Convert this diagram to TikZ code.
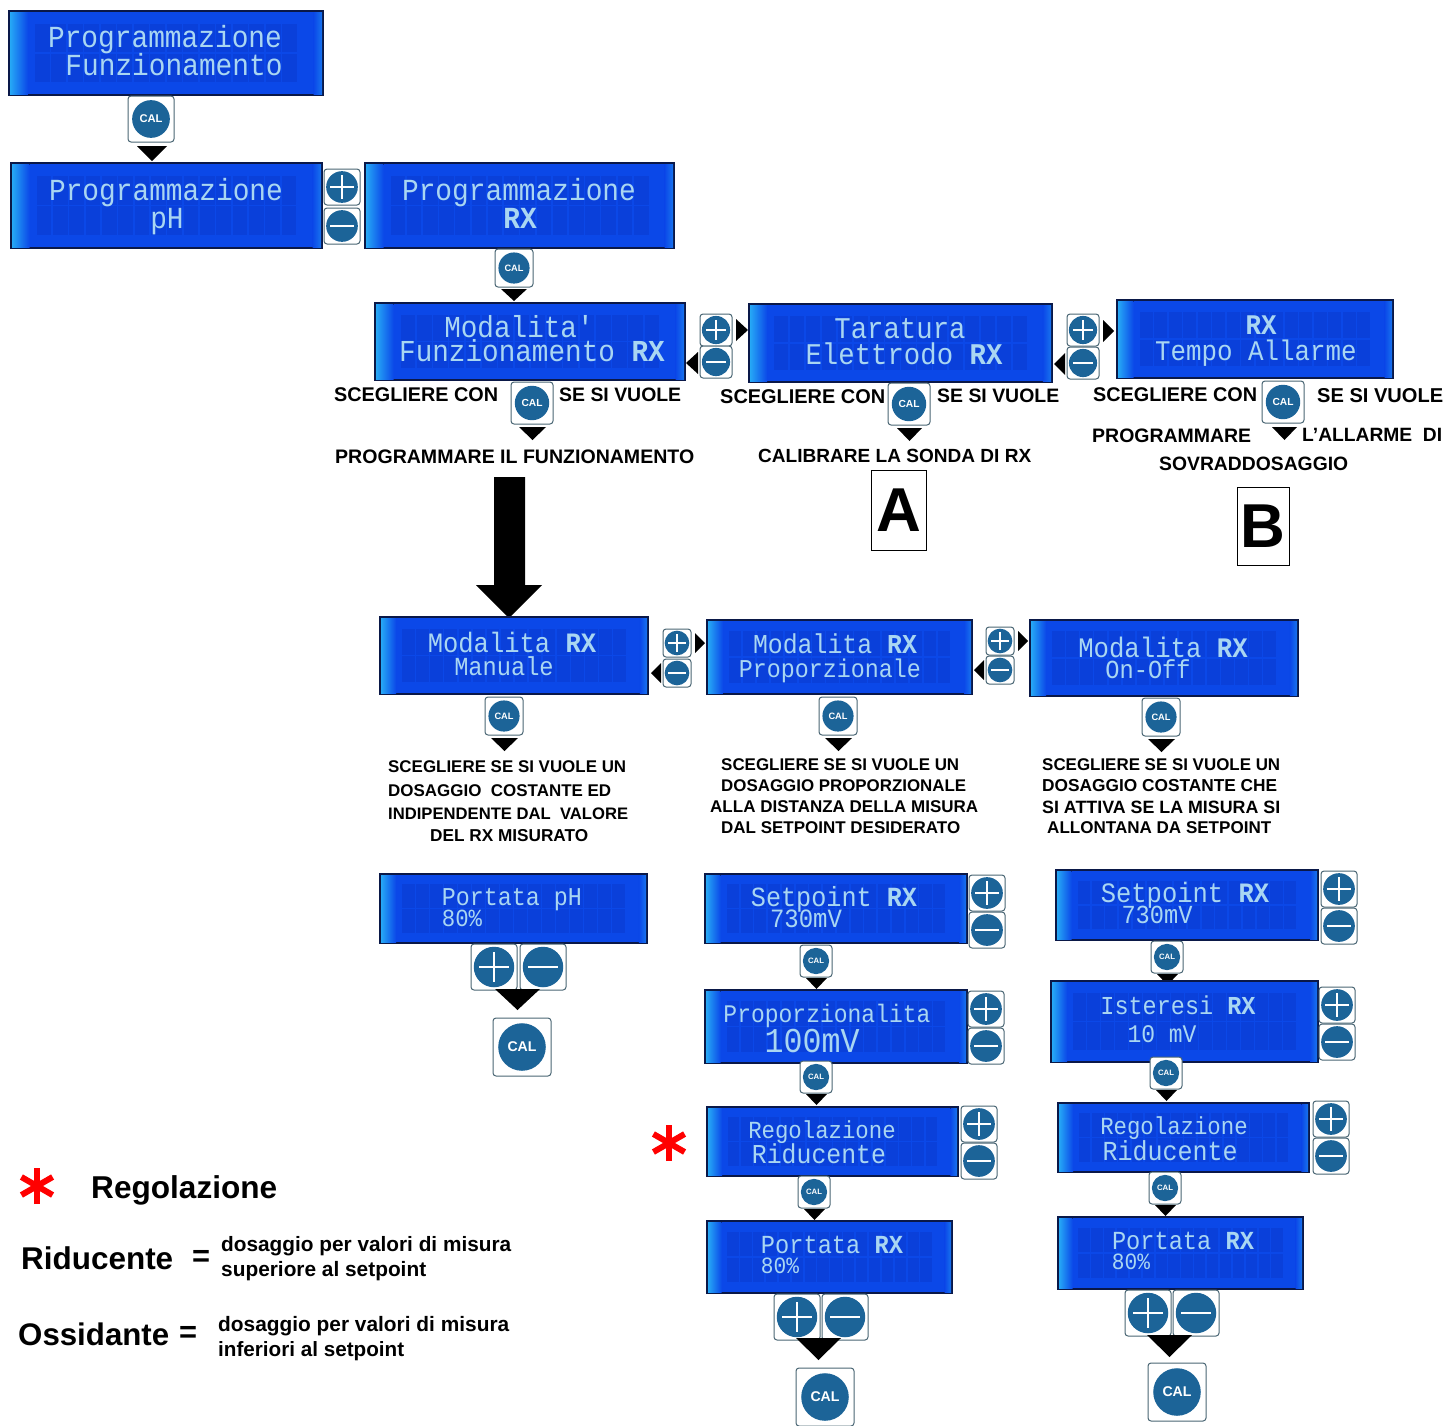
\documentclass[tikz,border=0pt]{standalone}
\usepackage{fontspec}
\usepackage{graphicx}
\usetikzlibrary{calc}
\setmainfont{Liberation Sans}
\setmonofont{Liberation Mono}
\definecolor{lcdbase}{HTML}{0B48E8}
\definecolor{lcdcell}{HTML}{0A40DA}
\definecolor{lcdglow}{HTML}{26A8F6}
\definecolor{lcdline}{HTML}{0A1848}
\definecolor{lcdtext}{HTML}{A9D6F2}
\definecolor{btnblue}{HTML}{1C6498}
\definecolor{btnedge}{HTML}{4A6674}
\newcounter{txc}
\tikzset{
  lcdbox/.style={draw=lcdline,line width=1.8pt,fill=lcdbase,inner sep=0pt},
  lcdchars/.style={inner sep=0pt,text=lcdtext,font=\fontsize{20}{20}\ttfamily,transform shape,anchor=base},
  btnframe/.style={draw=btnedge,line width=1pt,fill=white,rounded corners=3pt,inner sep=0pt},
  btndisc/.style={circle,fill=btnblue,draw=none,inner sep=0pt,text=white,font=\bfseries},
  labeltext/.style={anchor=west,inner sep=0pt,text=black,font=\bfseries},
  boxletter/.style={draw=black,line width=1pt,fill=white,inner sep=0pt,font=\bfseries},
  keyline/.style={white,line width=1.6pt},
  starray/.style={red,line width=6pt},
}
% LCD panel: name, x0,y0,x1,y1
\newcommand\lcdpanel[5]{%
  \pgfmathsetmacro\lw{#4-#2}\pgfmathsetmacro\lh{#5-#3}%
  \pgfmathsetmacro\lx{(#2+#4)/2}\pgfmathsetmacro\ly{(#3+#5)/2}%
  \node[lcdbox,minimum width=\lw pt,minimum height=\lh pt] (#1) at (\lx,\ly) {};
  \fill[left color=lcdglow,right color=lcdbase] (#2+1,#3+1) rectangle (#2+\lw*0.06,#5-1);
  \fill[left color=lcdbase,right color=lcdglow!45!lcdbase] (#4-\lw*0.03,#3+1) rectangle (#4-1,#5-1);
  \foreach \ci in {0,...,15}{\foreach \cj in {0,1}{
    \fill[lcdcell] (#2+\lw*0.08+\ci*\lw*0.0525+0.8,#3+\lh*0.14+\cj*\lh*0.36+0.8)
       rectangle ++(\lw*0.0525-1.6,\lh*0.36-1.6);}}
}
% LCD text: x,y of visible centre,char width,text
\newcommand\lcdline[4]{\stepcounter{txc}%
  \node[lcdchars,xscale=#3/12,yscale=#3/12*1.1] (l\thetxc) at (#1,#2+#3*0.6) {#4};}
\newcommand\RX{\textbf{RX}}
% buttons: name,x,y,size
\newcommand\calkey[4]{%
  \begin{scope}[shift={(#2,#3)}]
  \node[btnframe,minimum size=#4 pt] (#1) at (0,0) {};
  \pgfmathsetmacro\bd{#4*0.82}\pgfmathsetlengthmacro\bt{#4*0.5}%
  \node[btndisc,minimum size=\bd pt] (#1d) at (0,0) {\resizebox{\bt}{!}{CAL}};
  \end{scope}}
\newcommand\plukey[4]{%
  \begin{scope}[shift={(#2,#3)}]
  \node[btnframe,minimum size=#4 pt] (#1) at (0,0) {};
  \pgfmathsetmacro\bd{#4*0.88}%
  \node[btndisc,minimum size=\bd pt] (#1d) at (0,0) {};
  \draw[keyline] (-#4*0.32,0) -- (#4*0.32,0);
  \draw[keyline] (0,-#4*0.32) -- (0,#4*0.32);
  \end{scope}}
\newcommand\minkey[4]{%
  \begin{scope}[shift={(#2,#3)}]
  \node[btnframe,minimum size=#4 pt] (#1) at (0,0) {};
  \pgfmathsetmacro\bd{#4*0.88}%
  \node[btndisc,minimum size=\bd pt] (#1d) at (0,0) {};
  \draw[keyline] (-#4*0.32,0) -- (#4*0.32,0);
  \end{scope}}
\newcommand\tridown[4]{\fill[black] (#1,#3) -- (#2,#3) -- ({(#1+#2)/2},#4) -- cycle;}
\newcommand\triright[4]{\fill[black] (#1,#3) -- (#2,{(#3+#4)/2}) -- (#1,#4) -- cycle;}
\newcommand\trileft[4]{\fill[black] (#2,#3) -- (#1,{(#3+#4)/2}) -- (#2,#4) -- cycle;}
% text fitted to a width: x,y,width,text
\newcommand\lab[4]{\stepcounter{txc}%
  \node[labeltext] (t\thetxc) at (#1,#2+1) {\resizebox{#3pt}{!}{#4}};}
\newcommand\redstar[3]{%
  \foreach \sa in {30,90,150}{\draw[starray] ($(#1,#2)+(\sa:#3)$) -- ($(#1,#2)+(\sa+180:#3)$);}}
\begin{document}
\begin{tikzpicture}[x=1pt,y=-1pt]
\useasboundingbox (0,0) rectangle (1449,1425);
\fill[white] (0,0) rectangle (1449,1425);

% --- top chain
\lcdpanel{a1}{9}{11}{323}{95}
\lcdline{165}{37}{16.7}{Programmazione}
\lcdline{174}{65}{16.7}{Funzionamento}
\calkey{c1}{151}{119}{46}
\tridown{137}{167}{146}{161}
\lcdpanel{a2}{11}{163}{322}{248}
\lcdline{166}{190}{16.7}{Programmazione}
\lcdline{167}{218}{16.7}{pH}
\plukey{p1}{342}{187}{36}
\minkey{m1}{342}{226}{36}
\lcdpanel{a3}{365}{163}{674}{248}
\lcdline{519}{190}{16.7}{Programmazione}
\lcdline{520}{218}{16.7}{\RX}
\calkey{c2}{514}{268}{38}
\tridown{501}{527}{289}{301}

% --- second row
\lcdpanel{b1}{375}{303}{685}{380}
\lcdline{519}{328}{16.6}{Modalita'}
\lcdline{532}{352}{16.6}{Funzionamento \RX}
\plukey{p2}{716}{330}{32}
\minkey{m2}{716}{362}{32}
\triright{736}{748}{319}{341}
\trileft{686}{698}{352}{374}
\lcdpanel{b2}{749}{304}{1052}{382}
\lcdline{900}{329}{16.4}{Taratura}
\lcdline{904}{355}{16.4}{Elettrodo \RX}
\plukey{p3}{1083}{330}{32}
\minkey{m3}{1083}{363}{32}
\triright{1103}{1114}{320}{342}
\trileft{1054}{1065}{353}{375}
\lcdpanel{b3}{1117}{300}{1393}{378}
\lcdline{1261}{325}{15.5}{\RX}
\lcdline{1256}{351}{15.5}{Tempo Allarme}

\lab{334}{394}{164}{SCEGLIERE CON}
\calkey{c3}{532}{403}{42}
\tridown{519}{546}{427}{440}
\lab{559}{394}{122}{SE SI VUOLE}
\lab{335}{456}{359}{PROGRAMMARE IL FUNZIONAMENTO}
\lab{720}{396}{165}{SCEGLIERE CON}
\calkey{c4}{909}{404}{42}
\tridown{897}{922}{428}{441}
\lab{937}{395}{122}{SE SI VUOLE}
\lab{758}{455}{273}{CALIBRARE LA SONDA DI RX}
\lab{1093}{394}{164}{SCEGLIERE CON}
\calkey{c5}{1283}{402}{42}
\tridown{1272}{1297}{427}{440}
\lab{1317}{395}{126}{SE SI VUOLE}
\lab{1092}{435}{159}{PROGRAMMARE}
\lab{1302}{434}{140}{L'ALLARME~~DI}
\lab{1159}{463}{189}{SOVRADDOSAGGIO}
\node[boxletter,minimum width=55pt,minimum height=80pt] (boxa) at (898.5,510) {\raisebox{-2pt}{\fontsize{62}{62}\selectfont A}};
\node[boxletter,minimum width=52pt,minimum height=78pt] (boxb) at (1263,526) {\fontsize{62}{62}\selectfont B};

% --- big arrow
\fill[black] (494,477) -- (525,477) -- (525,585) -- (542,585) -- (509,618) -- (476,585) -- (494,585) -- cycle;

% --- mode row
\lcdpanel{d1}{380}{617}{648}{694}
\lcdline{512}{643}{15.3}{Modalita \RX}
\lcdline{504}{667}{14.2}{Manuale}
\plukey{p4}{677}{643}{28}
\minkey{m4}{677}{673}{28}
\triright{695}{705}{633}{653}
\trileft{651}{661}{663}{683}
\lcdpanel{d2}{707}{620}{972}{694}
\lcdline{835}{645}{14.9}{Modalita \RX}
\lcdline{830}{669}{14}{Proporzionale}
\plukey{p5}{1000}{641}{28}
\minkey{m5}{1000}{670}{28}
\triright{1018}{1028}{631}{651}
\trileft{974}{984}{660}{680}
\lcdpanel{d3}{1030}{620}{1298}{696}
\lcdline{1163}{648}{15.4}{Modalita \RX}
\lcdline{1148}{670}{14.2}{On-Off}
\calkey{c6}{504}{716}{38}
\tridown{491}{518}{738}{751}
\calkey{c7}{838}{716}{38}
\tridown{825}{852}{738}{751}
\calkey{c8}{1161}{717}{38}
\tridown{1148}{1175}{739}{752}

% --- description blocks
\lab{388}{766}{238}{SCEGLIERE SE SI VUOLE UN}
\lab{388}{790}{223}{DOSAGGIO~~COSTANTE ED}
\lab{388}{813}{240}{INDIPENDENTE DAL~~VALORE}
\lab{430}{835}{158}{DEL RX MISURATO}
\lab{721}{764}{238}{SCEGLIERE SE SI VUOLE UN}
\lab{721}{785}{245}{DOSAGGIO PROPORZIONALE}
\lab{710}{806}{268}{ALLA DISTANZA DELLA MISURA}
\lab{721}{827}{239}{DAL SETPOINT DESIDERATO}
\lab{1042}{764}{238}{SCEGLIERE SE SI VUOLE UN}
\lab{1042}{785}{235}{DOSAGGIO COSTANTE CHE}
\lab{1042}{806}{238}{SI ATTIVA SE LA MISURA SI}
\lab{1047}{827}{224}{ALLONTANA DA SETPOINT}

% --- column 1
\lcdpanel{e1}{380}{874}{647}{943}
\lcdline{512}{897}{14}{Portata pH}
\lcdline{462}{918}{13.4}{80\%}
\plukey{p6}{494}{967}{46}
\minkey{m6}{543}{967}{46}
\tridown{495}{540}{989}{1010}
\calkey{c9}{522}{1047}{58}

% --- column 2
\lcdpanel{f1}{705}{874}{967}{943}
\lcdline{834}{897}{15.1}{Setpoint \RX}
\lcdline{806}{919}{14.4}{730mV}
\plukey{p7}{987}{893}{36}
\minkey{m7}{987}{930}{36}
\calkey{c10}{816}{961}{32}
\tridown{806}{827}{978}{989}
\lcdpanel{f2}{705}{990}{967}{1063}
\lcdline{827}{1014}{13.8}{Proporzionalita}
\lcdline{812}{1041}{19}{100mV}
\plukey{p8}{986}{1009}{36}
\minkey{m8}{986}{1046}{36}
\calkey{c11}{816}{1077}{32}
\tridown{806}{827}{1094}{1105}
\lcdpanel{f3}{707}{1107}{958}{1176}
\lcdline{822}{1130}{13.4}{Regolazione}
\lcdline{819}{1155}{14.9}{Riducente}
\plukey{p9}{979}{1124}{36}
\minkey{m9}{979}{1161}{36}
\calkey{c12}{814}{1192}{32}
\tridown{804}{825}{1209}{1220}
\lcdpanel{f4}{707}{1221}{952}{1293}
\lcdline{832}{1245}{14.2}{Portata \RX}
\lcdline{780}{1266}{12.7}{80\%}
\plukey{p10}{797}{1317}{46}
\minkey{m10}{845}{1317}{46}
\tridown{796}{841}{1338}{1360}
\calkey{c13}{825}{1397}{58}

% --- column 3
\lcdpanel{g1}{1056}{870}{1318}{940}
\lcdline{1185}{893}{15.3}{Setpoint \RX}
\lcdline{1157}{915}{14.2}{730mV}
\plukey{p11}{1339}{889}{36}
\minkey{m11}{1339}{926}{36}
\calkey{c14}{1167}{957}{32}
\tridown{1157}{1178}{974}{985}
\lcdpanel{g2}{1051}{981}{1318}{1062}
\lcdline{1178}{1006}{14.1}{Isteresi \RX}
\lcdline{1162}{1034}{13.8}{10 mV}
\plukey{p12}{1337}{1005}{36}
\minkey{m12}{1337}{1042}{36}
\calkey{c15}{1166}{1073}{32}
\tridown{1156}{1177}{1090}{1101}
\lcdpanel{g3}{1058}{1103}{1309}{1172}
\lcdline{1174}{1126}{13.4}{Regolazione}
\lcdline{1170}{1151}{15}{Riducente}
\plukey{p13}{1331}{1119}{36}
\minkey{m13}{1331}{1156}{36}
\calkey{c16}{1165}{1188}{32}
\tridown{1155}{1176}{1205}{1216}
\lcdpanel{g4}{1058}{1217}{1303}{1289}
\lcdline{1183}{1241}{14.2}{Portata \RX}
\lcdline{1131}{1262}{12.7}{80\%}
\plukey{p14}{1148}{1313}{46}
\minkey{m14}{1196}{1313}{46}
\tridown{1147}{1192}{1335}{1357}
\calkey{c17}{1177}{1392}{58}

% --- legend
\redstar{669}{1143}{18}
\redstar{37}{1186}{18}
\lab{91}{1189}{186}{Regolazione}
\lab{21}{1257}{152}{Riducente}
\lab{192}{1257}{18}{=}
\lab{221}{1245}{290}{dosaggio per valori di misura}
\lab{221}{1270}{205}{superiore al setpoint}
\lab{18}{1333}{151}{Ossidante}
\lab{179}{1333}{18}{=}
\lab{218}{1325}{291}{dosaggio per valori di misura}
\lab{218}{1350}{186}{inferiori al setpoint}
\end{tikzpicture}
\end{document}
